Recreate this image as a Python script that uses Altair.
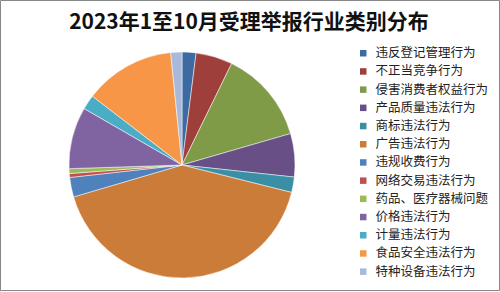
import altair as alt
import pandas as pd

categories = ["违反登记管理行为", "不正当竞争行为", "侵害消费者权益行为", "产品质量违法行为",
              "商标违法行为", "广告违法行为", "违规收费行为", "网络交易违法行为",
              "药品、医疗器械问题", "价格违法行为", "计量违法行为", "食品安全违法行为",
              "特种设备违法行为"]
shares = [2.0, 5.25, 13.3, 6.2, 2.2, 41.6, 2.8, 0.55, 0.7, 8.85, 2.1, 13.0, 1.6]
colors = ["#3D6AA1", "#9E3F3C", "#809B48", "#684F86", "#3A8EA6", "#CC7C39",
          "#4F81BD", "#C0504D", "#9BBB59", "#8064A2", "#4BACC6", "#F79646", "#A8B9DA"]
title_text = "2023年1至10月受理举报行业类别分布"

df = pd.DataFrame({"类别": categories, "占比": shares, "idx": list(range(len(categories)))})

W, H = 500, 292

pie = alt.Chart(df).mark_arc(outerRadius=113, stroke="white", strokeWidth=0.5).encode(
    theta=alt.Theta("占比:Q", stack=True),
    order=alt.Order("idx:Q"),
    color=alt.Color("类别:N", sort=categories,
                    scale=alt.Scale(domain=categories, range=colors),
                    legend=alt.Legend(title=None, orient="none", legendX=357, legendY=47,
                                      symbolType="square", symbolSize=42,
                                      symbolStrokeWidth=0,
                                      labelFont="Noto Sans CJK SC", labelFontSize=12.5,
                                      labelColor="#222222", rowPadding=5.2,
                                      labelOffset=6)),
    x=alt.value(182),
    y=alt.value(165),
)

border = alt.Chart(pd.DataFrame({"a": [0]})).mark_rect(
    fill=None, stroke="#888888", strokeWidth=1
).encode(x=alt.value(0.5), x2=alt.value(W - 0.5), y=alt.value(0.5), y2=alt.value(H - 1.5))

title = alt.Chart(pd.DataFrame({"t": [title_text]})).mark_text(
    font="Noto Sans CJK SC", fontSize=21, fontWeight="bold", color="#111111",
    align="center", baseline="middle"
).encode(text="t:N", x=alt.value(249), y=alt.value(23))

chart = alt.layer(border, pie, title).properties(
    width=W, height=H, padding=0, autosize=alt.AutoSizeParams(type="none")
).configure_view(stroke=None).configure(background="white")

chart.save("out.html", embed_options={"renderer": "svg", "actions": False})
